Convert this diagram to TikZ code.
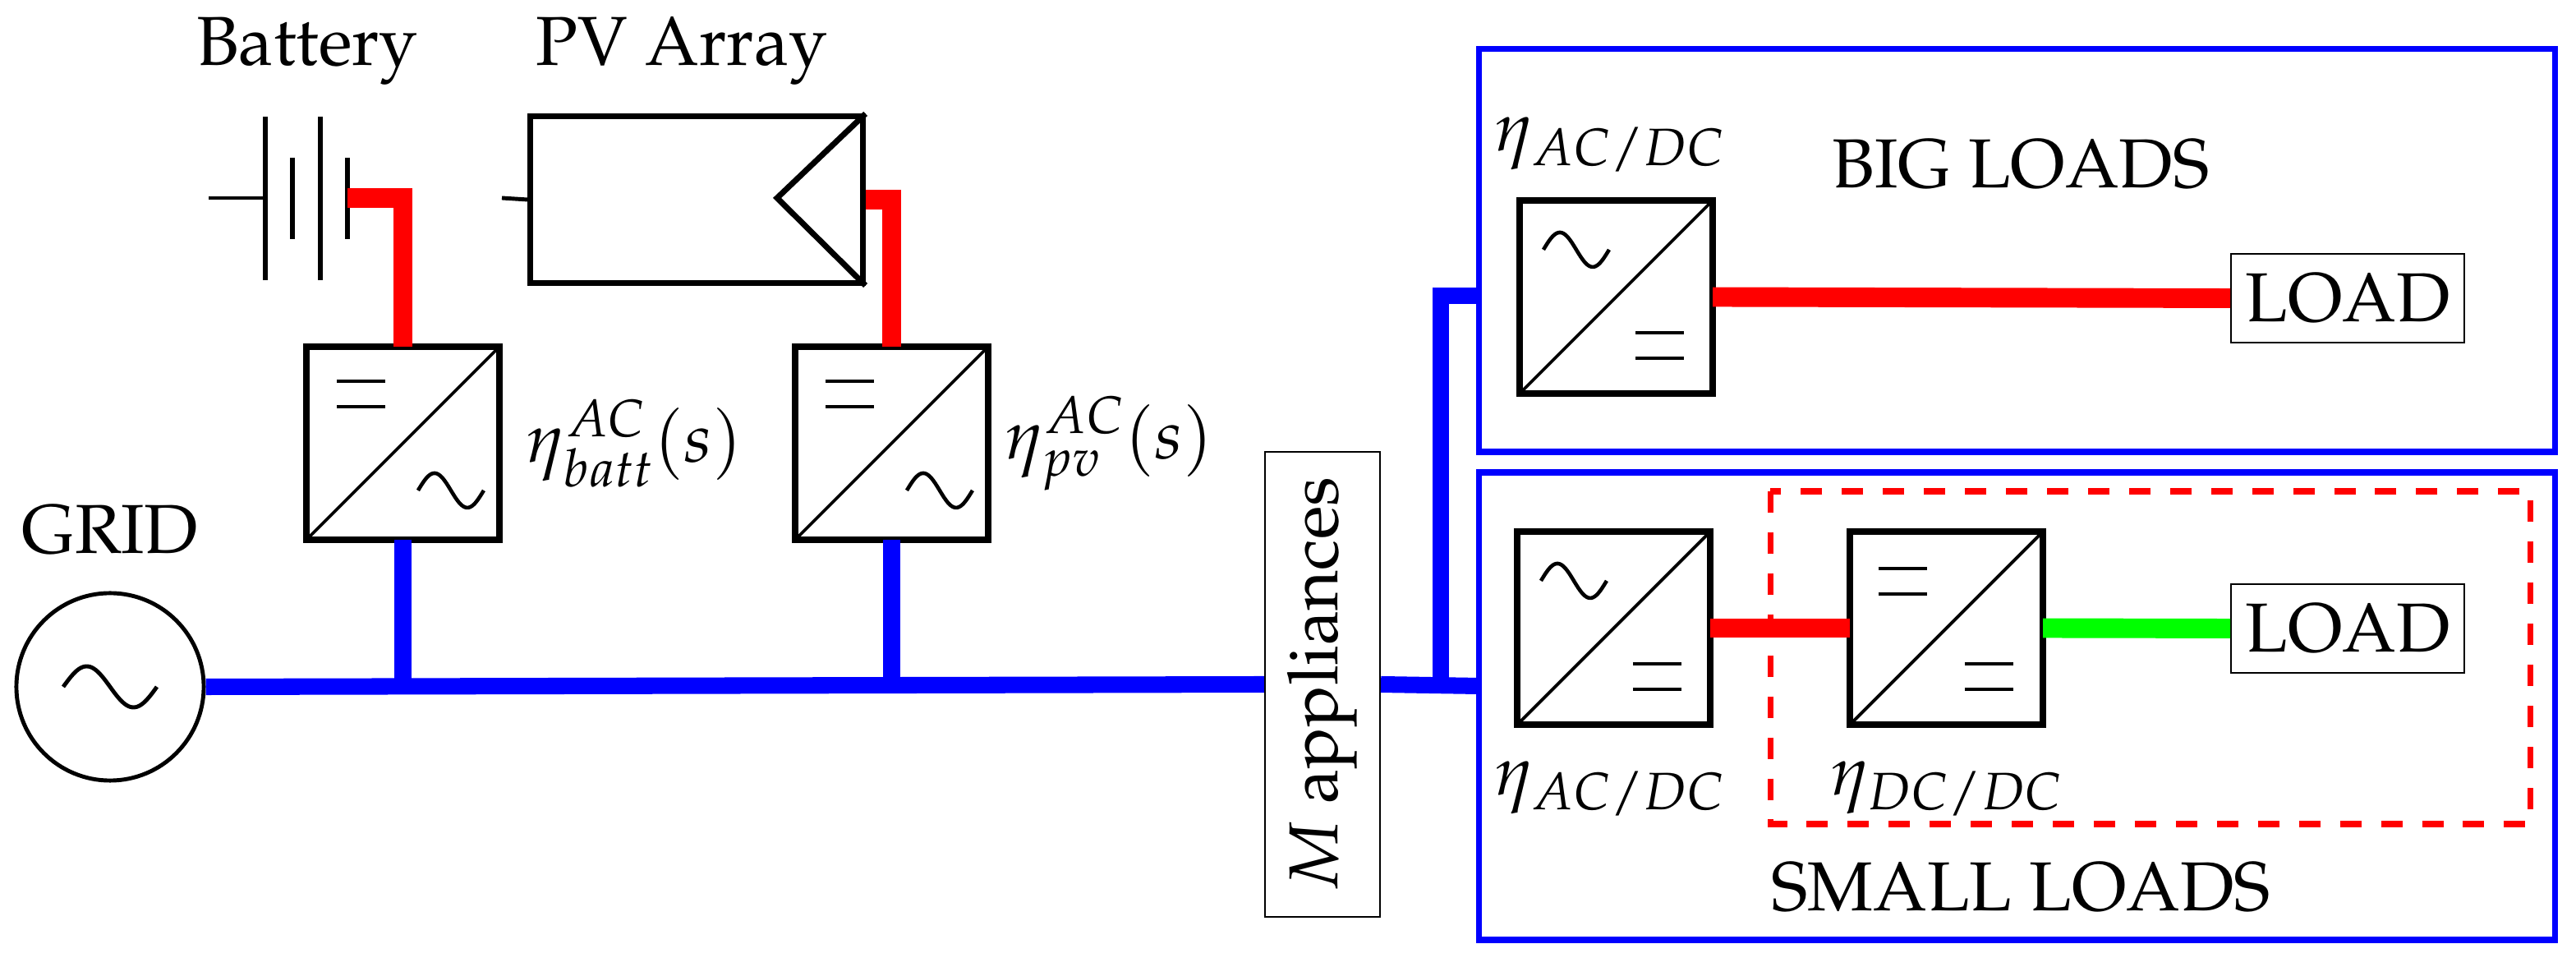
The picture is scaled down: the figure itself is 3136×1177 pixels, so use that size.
\documentclass[tikz,border=0pt]{standalone}
\usepackage[T1]{fontenc}
\usepackage{mathpazo}
\usetikzlibrary{calc}
\newcommand\symeq[2]{\draw[symw] (#1,#2) -- ++(59,0) (#1,#2+31) -- ++(59,0);}
\newcommand\symac[2]{\draw[symw] plot[domain=0:360,samples=40] ({#1+\x/360*80},{#2-21*sin(\x)});}
\newcommand\convbox[4]{%
  \node[conv] (#1) at (#2+117.5,#3+117.5) {};
  \draw[diag] (#1.south west) -- (#1.north east);
  \begin{scope}[shift={(#1.north west)}] #4 \end{scope}}
\begin{document}
\begin{tikzpicture}[x=0.01cm,y=-0.01cm,
  every node/.style={font=\fontsize{24}{28}\selectfont},
  conv/.style={draw,line width=2.4pt,minimum size=2.35cm,inner sep=0,outer sep=0},
  diag/.style={line width=1.1pt},
  symw/.style={line width=1.3pt},
  bus/.style={blue,line width=5.7pt},
  dcw/.style={red,line width=6.8pt},
  gw/.style={green,line width=6.8pt},
  frame/.style={draw=blue,line width=2pt},
  lbl/.style={inner sep=0},
  lbox/.style={draw,line width=0.5pt,minimum width=2.84cm,minimum height=1.08cm,inner sep=0}]
\useasboundingbox (0,0) rectangle (3136,1177);
% grid
\node[draw,circle,line width=1.4pt,minimum size=2.28cm,inner sep=0] (grid) at (134,836) {};
\draw[line width=1.4pt] plot[domain=0:360,samples=50] ({77+\x/360*114},{836-25*sin(\x)});
\node (gridl) at (134,645) {GRID};
% battery
\node (battl) at (374,62) {Battery};
\coordinate (bl) at (254,241);
\coordinate (bplus) at (423,241);
\draw[line width=1.4pt] (bl) -- (323,241);
\draw[line width=1.6pt] (323,142) -- (323,341) (390,142) -- (390,341)
  (356,192) -- (356,291) (423,192) -- (423,291);
% PV
\node (pvl) at (830,62) {PV Array};
\node[draw,line width=2pt,minimum width=4.04cm,minimum height=2.02cm,inner sep=0] (pv) at (848,243) {};
\draw[line width=2pt] (pv.north east) -- (946,241) -- (pv.south east);
\draw[line width=1.4pt] (611,241) -- (pv.west);
% converters
\convbox{bc}{373}{422}{\symeq{37}{42}\symac{136}{175}}
\convbox{pc}{968}{422}{\symeq{37}{42}\symac{136}{175}}
\node[lbl] (bcl) at (772,540) {$\eta^{AC}_{batt}(s)$};
\node[lbl] (pcl) at (1350,540) {$\eta^{AC}_{pv}(s)$};
\draw[dcw] (bplus) -| (bc.north);
\draw[dcw] (pv.east) -| (pc.north);
% M appliances
\node[draw,line width=0.6pt,rotate=90,minimum width=5.66cm,minimum height=1.4cm] (mapp) at (1610,833) {$M$ appliances};
% frames
\draw[frame] (1800,60) rectangle (3110,550);
\draw[frame] (1800,575) rectangle (3110,1144);
\draw[red,line width=2pt,dash pattern=on 7.4pt off 6.8pt] (2155,598) rectangle (3080,1003);
\node (bigl) at (2460,200) {BIG LOADS};
\node (smalll) at (2460,1080) {SMALL LOADS};
% bus
\draw[bus] (grid.east) -- (mapp.north);
\draw[bus] (bc.south) -- (bc.south |- grid.east);
\draw[bus] (pc.south) -- (pc.south |- grid.east);
\coordinate (j2) at (1754,835);
\draw[bus] (mapp.south) -- (1800,835);
\draw[bus] (j2) |- (1800,360);
% big loads
\convbox{bg}{1850}{244}{\symac{29}{60}\symeq{141}{161}}
\node (bgl) at (1960,176) {$\eta_{AC/DC}$};
\node[lbox] (l1) at (2858,363) {LOAD};
\draw[dcw] (bg.east) -- (l1.west);
% small loads
\convbox{s1}{1847}{647}{\symac{29}{60}\symeq{141}{161}}
\convbox{s2}{2252}{647}{\symeq{35}{45}\symeq{140}{161}}
\node (s1l) at (1960,960) {$\eta_{AC/DC}$};
\node (s2l) at (2370,960) {$\eta_{DC/DC}$};
\node[lbox] (l2) at (2858,765) {LOAD};
\draw[dcw] (s1.east) -- (s2.west);
\draw[gw] (s2.east) -- (l2.west);
\end{tikzpicture}
\end{document}
